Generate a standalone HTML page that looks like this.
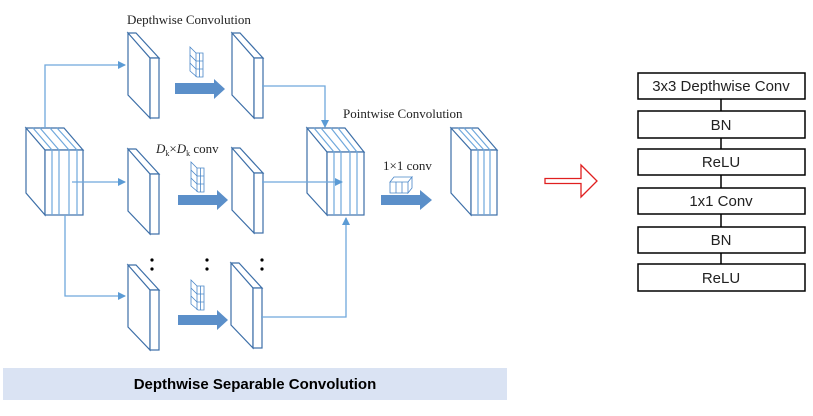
<!DOCTYPE html>
<html><head><meta charset="utf-8"><style>
body{margin:0;background:#fff;width:813px;height:416px;overflow:hidden}
svg{display:block}
</style></head><body>
<svg width="813" height="416" viewBox="0 0 813 416" xmlns="http://www.w3.org/2000/svg">
<defs>
<marker id="ah" markerWidth="8" markerHeight="8" refX="7" refY="4" orient="auto" markerUnits="userSpaceOnUse"><path d="M0,0 L8,4 L0,8 z" fill="#5b9bd5"/></marker>
</defs>
<g font-family="Liberation Serif, serif" font-size="13" fill="#222">
<text x="127" y="24">Depthwise Convolution</text>
<text x="343" y="118">Pointwise Convolution</text>
<text x="383" y="170">1×1 conv</text>
<text x="156" y="153"><tspan font-style="italic">D</tspan><tspan font-size="8" dy="3">k</tspan><tspan dy="-3">×</tspan><tspan font-style="italic">D</tspan><tspan font-size="8" dy="3">k</tspan><tspan dy="-3"> conv</tspan></text>
</g>
<g stroke="#3d6fa8" stroke-width="1.2" fill="#fff">
<path d="M26 128 L64 128 L83 150 L45 150 Z M26 128 L45 150 L45 215 L26 193 Z"/>
<rect x="45" y="150" width="38" height="65"/>
<path d="M52 150V215M59 150V215M69 150V215M77 150V215M33 128L52 150M40 128L59 150M50 128L69 150M57 128L77 150" stroke="#6fa8dc"/>
<path d="M307 128 L345 128 L364 152 L327 152 Z M307 128 L327 152 L327 215 L307 193 Z"/>
<rect x="327" y="152" width="37" height="63"/>
<path d="M334 152V215M341 152V215M350 152V215M357 152V215M314 128L334 152M321 128L341 152M331 128L350 152M338 128L357 152" stroke="#6fa8dc"/>
<path d="M451 128 L478 128 L497 150 L471 150 Z M451 128 L471 150 L471 215 L451 193 Z"/>
<rect x="471" y="150" width="26" height="65"/>
<path d="M478 150V215M484 150V215M490 150V215M458 128L478 150M464 128L484 150M471 128L490 150" stroke="#6fa8dc"/>
<g id="s">
<path d="M128 33 L136 33 L159 58 L150 58 Z M128 33 L150 58 L150 118 L128 95 Z"/>
<rect x="150" y="58" width="9" height="60"/>
</g>
<use href="#s" x="104" y="0"/>
<use href="#s" x="0" y="116"/>
<use href="#s" x="104" y="115"/>
<use href="#s" x="0" y="232"/>
<use href="#s" x="103" y="230"/>
</g>
<g stroke="#6fa8dc" stroke-width="1.3" fill="none">
<path d="M45 128 V65 H125" marker-end="url(#ah)"/>
<path d="M72 182 H125" marker-end="url(#ah)"/>
<path d="M65 215 V296 H125" marker-end="url(#ah)"/>
<path d="M262 86 H325 V127" marker-end="url(#ah)"/>
<path d="M262 182 H342" marker-end="url(#ah)"/>
<path d="M261 317 H346 V218" marker-end="url(#ah)"/>
</g>
<g stroke="#4a86c8" stroke-width="0.8" fill="#fff">
<g id="f"><path d="M190 47 L196 53 L203 53 L203 77 L197 77 L190 71 Z"/><path d="M196 53V77M196 61H203M196 69H203M199.5 53V77M190 55L196 61M190 63L196 69" /></g>
<use href="#f" x="1" y="115"/>
<use href="#f" x="1" y="233"/>
<path d="M390 182 L394 177 L412 177 L408 182 Z M390 182 H408 V193 H390 Z M408 182 L412 177 L412 188 L408 193 Z M396 182V193M402 182V193"/>
</g>
<g fill="#5b8fc9">
<path d="M175 83 H214 V79 L225 89 L214 99 V94 H175 Z"/>
<path d="M178 195 H217 V190 L228 200 L217 210 V205 H178 Z"/>
<path d="M178 315 H217 V310 L228 320 L217 330 V325 H178 Z"/>
<path d="M381 195 H420 V190 L432 200 L420 210 V205 H381 Z"/>
</g>
<g fill="#000">
<circle cx="152" cy="260" r="1.6"/><circle cx="152" cy="269" r="1.6"/>
<circle cx="207" cy="260" r="1.6"/><circle cx="207" cy="269" r="1.6"/>
<circle cx="262" cy="260" r="1.6"/><circle cx="262" cy="269" r="1.6"/>
</g>
<rect x="3" y="368" width="504" height="32" fill="#dae3f3"/>
<text x="255" y="389" text-anchor="middle" font-family="Liberation Sans, sans-serif" font-weight="bold" font-size="15" fill="#000">Depthwise Separable Convolution</text>
<path d="M545 178.5 H581 V165 L597 181 L581 197 V183.5 H545 Z" fill="#fff" stroke="#e02020" stroke-width="1.3"/>
<g stroke="#000" stroke-width="1.5" fill="#fff">
<path d="M721 99V111M721 138V149M721 175V188M721 214V227M721 253V264"/>
<rect x="638" y="73" width="167" height="26"/>
<rect x="638" y="111" width="167" height="27"/>
<rect x="638" y="149" width="167" height="26"/>
<rect x="638" y="188" width="167" height="26"/>
<rect x="638" y="227" width="167" height="26"/>
<rect x="638" y="264" width="167" height="27"/>
</g>
<g font-family="Liberation Sans, sans-serif" font-size="15" fill="#222" text-anchor="middle">
<text x="721" y="91">3x3 Depthwise Conv</text>
<text x="721" y="130">BN</text>
<text x="721" y="167">ReLU</text>
<text x="721" y="206">1x1 Conv</text>
<text x="721" y="245">BN</text>
<text x="721" y="283">ReLU</text>
</g>
</svg>
</body></html>
